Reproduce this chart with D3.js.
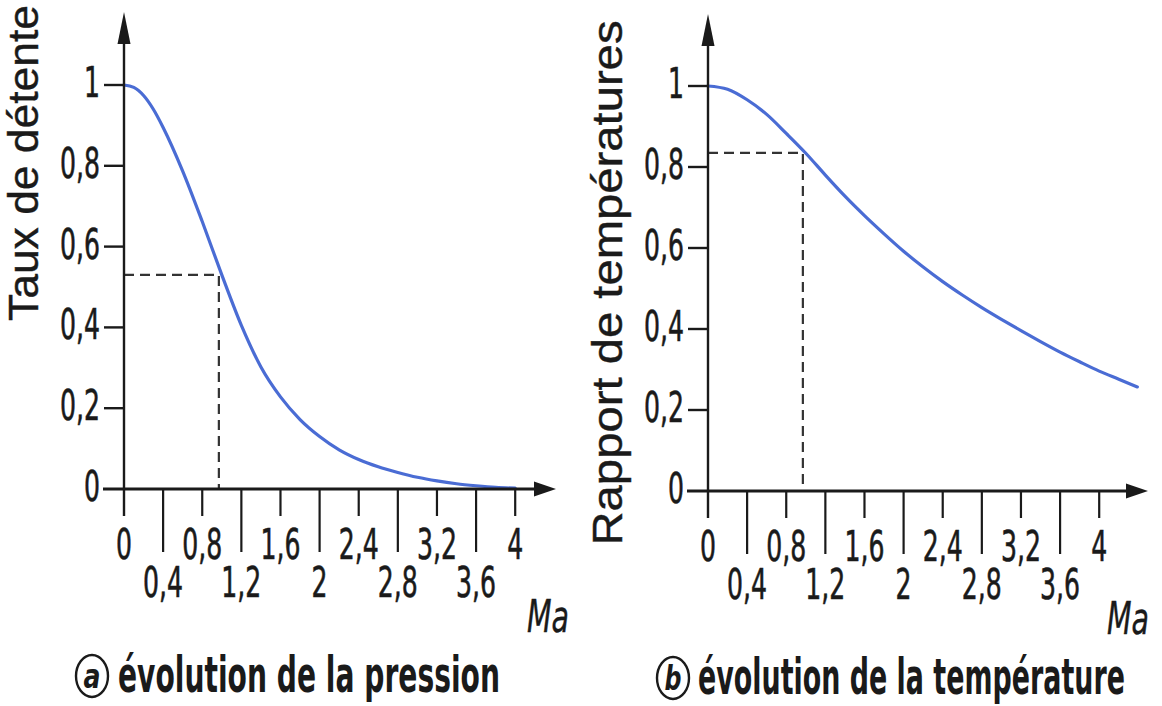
<!DOCTYPE html>
<html>
<head>
<meta charset="utf-8">
<script src="https://cdn.jsdelivr.net/npm/d3@7"></script>
<style>
  html, body { margin: 0; padding: 0; background: #fff; }
  svg { display: block; }
</style>
</head>
<body>
<div id="chart"></div>
<script>
// values
const xTicks = [0, 0.4, 0.8, 1.2, 1.6, 2, 2.4, 2.8, 3.2, 3.6, 4];
const xTickLabels = ['0', '0,4', '0,8', '1,2', '1,6', '2', '2,4', '2,8', '3,2', '3,6', '4'];
const yTicks = [0, 0.2, 0.4, 0.6, 0.8, 1];
const yTickLabels = ['0', '0,2', '0,4', '0,6', '0,8', '1'];

const machPressure = [0, 0.1, 0.2, 0.3, 0.4, 0.6, 0.8, 1.0, 1.2, 1.4, 1.6, 1.8, 2.0, 2.2, 2.4, 2.6, 2.8, 3.0, 3.2, 3.4, 3.6, 3.8, 4.0];
const pressureRatio = [1, 0.994, 0.974, 0.94, 0.895, 0.787, 0.662, 0.53, 0.405, 0.302, 0.228, 0.172, 0.13, 0.097, 0.073, 0.055, 0.041, 0.029, 0.02, 0.013, 0.008, 0.004, 0.002];

const machTemperature = [0, 0.2, 0.4, 0.6, 0.8, 1.0, 1.2, 1.4, 1.6, 1.8, 2.0, 2.2, 2.4, 2.6, 2.8, 3.0, 3.2, 3.4, 3.6, 3.8, 4.0, 4.2, 4.39];
const temperatureRatio = [1, 0.992, 0.966, 0.93, 0.883, 0.834, 0.78, 0.728, 0.68, 0.635, 0.592, 0.553, 0.517, 0.484, 0.453, 0.424, 0.396, 0.369, 0.343, 0.319, 0.296, 0.276, 0.257];

const width = 1162, height = 706;
const curve_color = '#4a6cd4';
const ink = '#1a1a1a';
const tick_font = '"Liberation Sans Narrow", "DejaVu Sans Condensed", sans-serif';
const title_font = '"Liberation Sans", Arial, sans-serif';

// the reference uses a very condensed face: squeeze labels to its widths
const labelLen = s => s.split('').reduce((a, c) => a + (c === ',' ? 8 : 16), 0);

const svg = d3.select('#chart').append('svg')
  .attr('width', width).attr('height', height);

const panels = [
  {
    x0: 124, y0: 489, y1: 85, arrowX: 556, arrowY: 12,
    mach: machPressure, values: pressureRatio, marker: {m: 0.97, v: 0.53},
    title: 'Taux de détente', titleX: 38, titleY: 163, titleLen: 316,
    letter: 'a', caption: 'évolution de la pression', capX: 118, capLen: 382, capY: 692, circX: 92,
    rowShift: 0, maX: 527
  },
  {
    x0: 708, y0: 491, y1: 86, arrowX: 1148, arrowY: 14,
    mach: machTemperature, values: temperatureRatio, marker: {m: 0.97, v: 0.835},
    title: 'Rapport de températures', titleX: 622, titleY: 283, titleLen: 525,
    letter: 'b', caption: 'évolution de la température', capX: 698, capLen: 427, capY: 694, circX: 673,
    rowShift: 2, maX: 1107
  }
];

panels.forEach(drawPanel);

function drawPanel(p) {
  const g = svg.append('g');
  const unit = 97.8;
  const x = d3.scaleLinear().domain([0, 4]).range([p.x0, p.x0 + 4 * unit]);
  const y = d3.scaleLinear().domain([0, 1]).range([p.y0, p.y1]);

  // dashed guide lines
  g.append('path')
    .attr('d', `M${x(0)},${y(p.marker.v)}H${x(p.marker.m)}V${y(0)}`)
    .attr('fill', 'none')
    .attr('stroke', '#333')
    .attr('stroke-width', 2.2)
    .attr('stroke-dasharray', '10,6');

  // curve
  const line = d3.line()
    .x((d, i) => x(p.mach[i]))
    .y(d => y(d))
    .curve(d3.curveMonotoneX);

  g.append('path')
    .datum(p.values)
    .attr('d', line)
    .attr('fill', 'none')
    .attr('stroke', curve_color)
    .attr('stroke-width', 3.2)
    .attr('stroke-linecap', 'round');

  // axes lines
  g.append('line')
    .attr('x1', p.x0 - 21).attr('x2', p.arrowX - 14)
    .attr('y1', p.y0).attr('y2', p.y0)
    .attr('stroke', ink).attr('stroke-width', 2.8);
  g.append('line')
    .attr('x1', p.x0).attr('x2', p.x0)
    .attr('y1', p.y0 + 27).attr('y2', p.arrowY + 20)
    .attr('stroke', ink).attr('stroke-width', 2.4);

  // arrow heads
  g.append('path')
    .attr('d', `M${p.arrowX},${p.y0}L${p.arrowX - 22},${p.y0 - 7.5}L${p.arrowX - 22},${p.y0 + 7.5}Z`)
    .attr('fill', ink);
  g.append('path')
    .attr('d', `M${p.x0},${p.arrowY}L${p.x0 - 6.5},${p.arrowY + 32}L${p.x0 + 6.5},${p.arrowY + 32}Z`)
    .attr('fill', ink);

  // y ticks
  g.selectAll('.ytick').data(yTicks.slice(1)).join('line')
    .attr('x1', p.x0 - 20).attr('x2', p.x0)
    .attr('y1', d => y(d)).attr('y2', d => y(d))
    .attr('stroke', ink).attr('stroke-width', 2.4);

  g.selectAll('.ylabel').data(yTicks).join('text')
    .attr('x', p.x0 - 24)
    .attr('y', d => y(d) + 12)
    .attr('text-anchor', 'end')
    .attr('font-family', tick_font)
    .attr('font-size', 42)
    .attr('textLength', (d, i) => labelLen(yTickLabels[i]))
    .attr('lengthAdjust', 'spacingAndGlyphs')
    .attr('fill', ink)
    .attr('stroke', ink).attr('stroke-width', 0.6)
    .text((d, i) => yTickLabels[i]);

  // x ticks: alternating short / long
  g.selectAll('.xtick').data(xTicks.slice(1)).join('line')
    .attr('x1', d => x(d)).attr('x2', d => x(d))
    .attr('y1', p.y0)
    .attr('y2', (d, i) => p.y0 + ((i + 1) % 2 === 0 ? 27 : 63))
    .attr('stroke', ink).attr('stroke-width', 2.2);

  g.selectAll('.xlabel').data(xTicks).join('text')
    .attr('x', d => x(d))
    .attr('y', (d, i) => (i % 2 === 0 ? 559 : 597) + p.rowShift)
    .attr('text-anchor', 'middle')
    .attr('font-family', tick_font)
    .attr('font-size', 42)
    .attr('textLength', (d, i) => labelLen(xTickLabels[i]))
    .attr('lengthAdjust', 'spacingAndGlyphs')
    .attr('fill', ink)
    .attr('stroke', ink).attr('stroke-width', 0.6)
    .text((d, i) => xTickLabels[i]);

  g.append('text')
    .attr('x', p.maX).attr('y', 632 + p.rowShift)
    .attr('font-family', tick_font)
    .attr('font-style', 'italic')
    .attr('font-size', 44)
    .attr('textLength', 42)
    .attr('lengthAdjust', 'spacingAndGlyphs')
    .attr('fill', ink)
    .attr('stroke', ink).attr('stroke-width', 0.4)
    .text('Ma');

  // axis title
  g.append('text')
    .attr('transform', `translate(${p.titleX},${p.titleY}) rotate(-90)`)
    .attr('text-anchor', 'middle')
    .attr('font-family', title_font)
    .attr('font-size', 42)
    .attr('textLength', p.titleLen)
    .attr('lengthAdjust', 'spacingAndGlyphs')
    .attr('fill', ink)
    .attr('stroke', ink).attr('stroke-width', 0.4)
    .text(p.title);

  // caption with circled letter
  g.append('ellipse')
    .attr('cx', p.circX).attr('cy', p.capY - 16)
    .attr('rx', 16).attr('ry', 21)
    .attr('fill', 'none').attr('stroke', ink).attr('stroke-width', 2.4);
  g.append('text')
    .attr('x', p.circX).attr('y', p.capY - 4)
    .attr('text-anchor', 'middle')
    .attr('font-family', tick_font)
    .attr('font-style', 'italic')
    .attr('font-weight', 'bold')
    .attr('font-size', 34)
    .attr('textLength', 17)
    .attr('lengthAdjust', 'spacingAndGlyphs')
    .attr('fill', ink)
    .text(p.letter);

  g.append('text')
    .attr('x', p.capX).attr('y', p.capY)
    .attr('font-family', tick_font)
    .attr('font-weight', 'bold')
    .attr('font-size', 50)
    .attr('textLength', p.capLen)
    .attr('lengthAdjust', 'spacingAndGlyphs')
    .attr('fill', ink)
    .text(p.caption);
}
</script>
</body>
</html>
